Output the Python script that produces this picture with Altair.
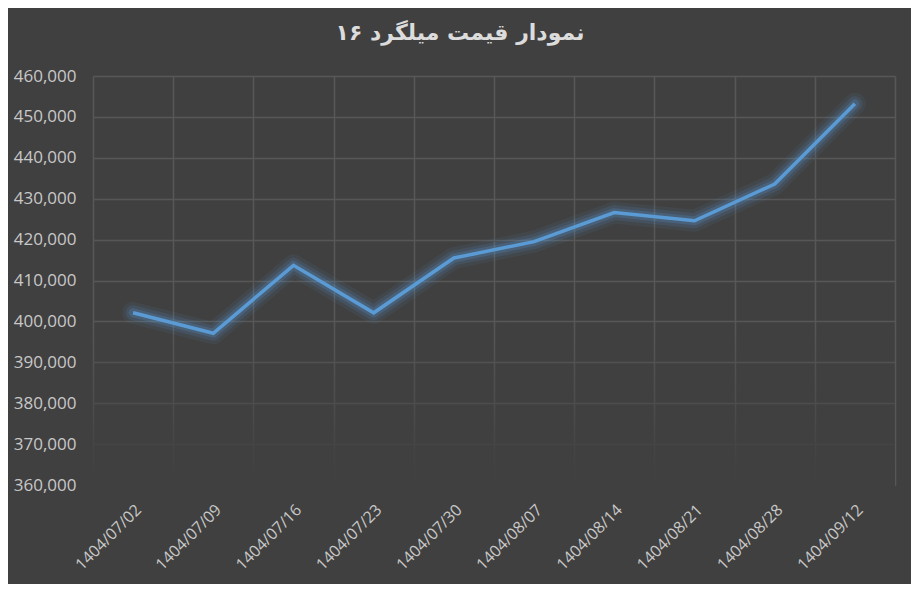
import altair as alt
import pandas as pd

dates = ["1404/07/02", "1404/07/09", "1404/07/16", "1404/07/23", "1404/07/30",
         "1404/08/07", "1404/08/14", "1404/08/21", "1404/08/28", "1404/09/12"]
prices = [402100, 397100, 413700, 402100, 415500, 419500, 426600, 424600, 433600, 453200]
y_ticks = [360000, 370000, 380000, 390000, 400000, 410000, 420000, 430000, 440000, 450000, 460000]
title_text = "نمودار قیمت میلگرد ۱۶"

df = pd.DataFrame({"date": dates, "price": prices})

BG = "#404040"
BLUE = "#5b9bd5"

x_enc = alt.X("date:O", sort=dates, bandPosition=0.5,
              scale=alt.Scale(type="band", paddingInner=0, paddingOuter=0),
              axis=alt.Axis(title=None, tickBand="extent", grid=True, gridColor="#575757",
                            gridWidth=1.5, domain=False, ticks=False, tickSize=0,
                            labelAngle=315, labelAlign="right", labelBaseline="middle",
                            labelPadding=22, labelOffset=5, labelColor="#c8c8c8",
                            labelFont="Open Sans", labelFontSize=16))
y_enc = alt.Y("price:Q", scale=alt.Scale(domain=[360000, 460000], nice=False, zero=False),
              axis=alt.Axis(title=None, values=y_ticks, format=",d", grid=True,
                            gridColor="#575757", gridWidth=1.5, domain=False,
                            ticks=False, tickSize=0, labelPadding=17,
                            labelColor="#c8c8c8", labelFont="Open Sans", labelFontSize=17))

base = alt.Chart(df)

glow1 = base.mark_line(color=BLUE, strokeWidth=22, opacity=0.08,
                       strokeJoin="round", strokeCap="round").encode(x=x_enc, y=y_enc)
glow2 = base.mark_line(color=BLUE, strokeWidth=15, opacity=0.13,
                       strokeJoin="round", strokeCap="round").encode(x=x_enc, y=y_enc)
glow3 = base.mark_line(color=BLUE, strokeWidth=9, opacity=0.22,
                       strokeJoin="round", strokeCap="round").encode(x=x_enc, y=y_enc)
main = base.mark_line(color=BLUE, strokeWidth=3.5, strokeJoin="miter").encode(x=x_enc, y=y_enc)

fade = alt.Chart(pd.DataFrame({"a": [0]})).mark_rect(
    fill=alt.Gradient(gradient="linear", x1=0, x2=0, y1=0, y2=1,
                      stops=[alt.GradientStop(color="rgba(64,64,64,0)", offset=0),
                             alt.GradientStop(color="rgba(64,64,64,0.45)", offset=0.5),
                             alt.GradientStop(color="rgba(64,64,64,0.8)", offset=0.75),
                             alt.GradientStop(color="rgba(64,64,64,0.97)", offset=0.92),
                             alt.GradientStop(color="rgba(64,64,64,1)", offset=1)])
).encode(x=alt.value(-2), x2=alt.value("width"),
         y=alt.datum(401000, type="quantitative", scale=alt.Scale(domain=[360000, 460000])),
         y2=alt.datum(359000))

chart = alt.layer(fade, glow1, glow2, glow3, main).properties(
    width=802, height=409,
    autosize=alt.AutoSizeParams(type="none"),
    padding={"left": 85, "top": 68, "right": 16, "bottom": 99},
    background=BG,
    title=alt.TitleParams(title_text, font="DejaVu Sans", fontSize=22, fontWeight="bold",
                          color="#dcdcdc", anchor="middle", dx=-34, offset=12,
                          baseline="middle"),
).configure_view(stroke=None)

chart.save("out.html", embed_options={"renderer": "svg", "actions": False})
